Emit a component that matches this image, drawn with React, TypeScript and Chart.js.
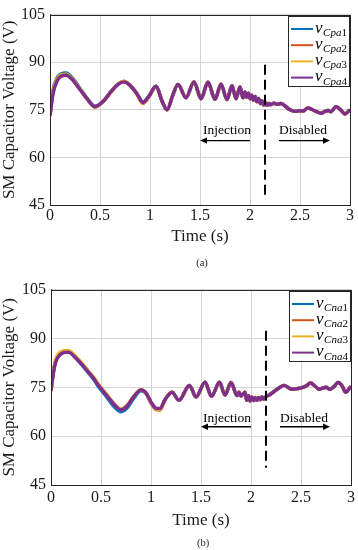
import React, { useEffect, useRef } from "react";
import { Chart, registerables } from "chart.js";
Chart.register(...registerables);

const FONT = '"Liberation Serif", "Times New Roman", serif';
const COLORS = ["#0072BD", "#D95319", "#EDB120", "#7E2F8E"];
const INK = "#1a1a1a";
const GRID = "#d6d6d6";

// x ticks / y ticks
const xTicks = [0, 0.5, 1, 1.5, 2, 2.5, 3];
const xTickLabels = ["0", "0.5", "1", "1.5", "2", "2.5", "3"];
const yTicks = [45, 60, 75, 90, 105];

// ---------- panel (a) ----------
const timeA = [
  0, 0.03, 0.07, 0.11, 0.16, 0.22, 0.29, 0.37, 0.45, 0.53, 0.61, 0.68, 0.74, 0.8, 0.87, 0.93, 0.99,
  1.06, 1.12, 1.17, 1.23, 1.28, 1.36, 1.44, 1.51, 1.58, 1.65, 1.71, 1.77, 1.82, 1.86, 1.9, 1.93,
  1.95, 1.967, 1.984, 2.001, 2.018, 2.035, 2.052, 2.069, 2.086, 2.103, 2.12, 2.137, 2.154, 2.171, 2.188, 2.205,
  2.24, 2.27, 2.31, 2.35, 2.4, 2.45, 2.5, 2.53, 2.58, 2.62, 2.66, 2.71, 2.75, 2.78, 2.81, 2.86, 2.9, 2.95, 3.0,
];
const pa1Head = [73.5, 81.2, 85.0, 86.3, 86.6, 85.2, 82.2, 78.7, 76.1, 77.7, 80.8, 83.1, 83.9, 82.8, 80.1, 77.4, 79.4];
const pa2Head = [73.2, 80.5, 84.5, 85.9, 86.1, 84.8, 81.9, 78.4, 75.8, 77.5, 80.6, 83.0, 83.9, 82.7, 79.9, 77.0, 79.1];
const pa3Head = [73.3, 80.7, 84.6, 86.0, 86.2, 84.9, 82.0, 78.5, 75.9, 77.6, 80.7, 83.1, 84.0, 82.8, 80.0, 77.1, 79.2];
const pa4Head = [73.0, 80.0, 84.0, 85.6, 85.9, 84.6, 81.8, 78.5, 76.0, 77.6, 80.7, 83.0, 83.8, 82.7, 80.0, 77.3, 79.3];
const paTail = [
  82.4, 77.8, 75.0, 79.8, 83.0, 78.8, 83.8, 78.5, 83.7, 78.3, 83.1, 78.2, 82.6, 78.5, 82.2, 78.8,
  80.6, 79.0, 80.2, 78.5, 79.6, 78.0, 79.2, 77.6, 78.6, 77.0, 77.9, 76.5, 77.3, 76.4, 77.0, 76.6,
  77.1, 76.7, 77.0, 76.2, 75.0, 74.5, 74.7, 74.6, 75.6, 75.1, 74.5, 73.9, 74.5, 74.8, 74.4, 76.0, 75.2, 73.7, 75.0,
];
const labelsA = ["Cpa1", "Cpa2", "Cpa3", "Cpa4"];

// ---------- panel (b) ----------
const timeB = [
  0, 0.02, 0.045, 0.09, 0.17, 0.27, 0.37, 0.43, 0.47, 0.56, 0.64, 0.7, 0.76, 0.83, 0.9, 0.95, 1.0, 1.05, 1.09,
  1.14, 1.21, 1.28, 1.385, 1.45, 1.54, 1.605, 1.685, 1.74, 1.8, 1.86, 1.88, 1.9, 1.94,
  1.957, 1.974, 1.991, 2.008, 2.025, 2.042, 2.059, 2.076, 2.093, 2.11, 2.127, 2.145,
  2.19, 2.23, 2.28, 2.33, 2.38, 2.41, 2.46, 2.5, 2.55, 2.595, 2.64, 2.68, 2.72, 2.75, 2.79, 2.83, 2.87, 2.91, 2.945, 3.0,
];
const na1Head = [74.3, 79.0, 83.0, 85.3, 85.9, 83.2, 79.6, 77.3, 75.4, 71.9, 68.8, 67.5, 68.6, 71.7, 73.9, 73.1, 70.3, 68.4, 68.3];
const na2Head = [73.8, 78.8, 83.0, 85.6, 86.2, 83.6, 80.0, 77.8, 76.0, 72.6, 69.6, 68.3, 69.4, 72.3, 74.3, 73.2, 70.2, 68.2, 68.0];
const na3Head = [73.9, 78.9, 83.1, 85.7, 86.3, 83.7, 80.1, 77.9, 76.1, 72.7, 69.5, 68.3, 69.3, 72.3, 74.3, 73.3, 70.4, 68.4, 68.2];
const na4Head = [74.0, 78.5, 82.5, 85.0, 85.8, 83.3, 79.8, 77.6, 75.8, 72.4, 69.4, 68.1, 69.2, 72.2, 74.2, 73.3, 70.5, 68.6, 68.5];
const naTail = [
  71.2, 73.5, 71.0, 75.6, 72.0, 76.6, 72.2, 76.6, 72.6, 76.5, 72.5, 73.5, 72.3, 73.5,
  71.0, 72.4, 70.8, 72.0, 70.9, 71.9, 71.0, 71.8, 71.2, 72.0, 71.4, 72.0,
  72.8, 73.7, 74.8, 75.6, 74.8, 74.4, 74.6, 74.8, 75.4, 76.3, 75.4, 74.4, 74.8, 75.0, 74.4, 75.2, 76.5, 75.5, 73.5, 75.3,
];
const labelsB = ["Cna1", "Cna2", "Cna3", "Cna4"];

type PanelCfg = {
  time: number[];
  series: number[][];
  labels: string[];
  caption: string;
  pad: { top: number; right: number; left: number };
  xHeight: number;
  yWidth: number;
  tickGap: number;
  titleGap: number;
  captionY: number;
  dashX: number;
  dashFrom: number;
  dashTo: number;
  textY: number;
  arrowY: number;
  injText: number;
  injArrow: [number, number];
  disText: number;
  disArrow: [number, number];
};

const panelA: PanelCfg = {
  time: timeA,
  series: [
    [...pa1Head, ...paTail],
    [...pa2Head, ...paTail],
    [...pa3Head, ...paTail],
    [...pa4Head, ...paTail],
  ],
  labels: labelsA,
  caption: "(a)",
  pad: { top: 8, right: 8, left: 0 },
  xHeight: 70,
  yWidth: 50,
  tickGap: 1,
  titleGap: 32,
  captionY: 263,
  dashX: 2.15,
  dashFrom: 89.2,
  dashTo: 47.4,
  textY: 68.4,
  arrowY: 65.3,
  injText: 1.77,
  injArrow: [2.0, 1.5],
  disText: 2.53,
  disArrow: [2.29, 2.8],
};

const panelB: PanelCfg = {
  time: timeB,
  series: [
    [...na1Head, ...naTail],
    [...na2Head, ...naTail],
    [...na3Head, ...naTail],
    [...na4Head, ...naTail],
  ],
  labels: labelsB,
  caption: "(b)",
  pad: { top: 14, right: 7, left: 0 },
  xHeight: 65,
  yWidth: 51,
  tickGap: 3,
  titleGap: 36,
  captionY: 268,
  dashX: 2.15,
  dashFrom: 92.4,
  dashTo: 50.3,
  textY: 65.4,
  arrowY: 62.9,
  injText: 1.76,
  injArrow: [2.0, 1.5],
  disText: 2.53,
  disArrow: [2.29, 2.79],
};

function arrow(ctx: CanvasRenderingContext2D, x1: number, x2: number, y: number) {
  const dir = Math.sign(x2 - x1);
  const head = 7;
  ctx.strokeStyle = "#000";
  ctx.fillStyle = "#000";
  ctx.lineWidth = 1.4;
  ctx.beginPath();
  ctx.moveTo(x1, y);
  ctx.lineTo(x2 - dir * head * 0.6, y);
  ctx.stroke();
  ctx.beginPath();
  ctx.moveTo(x2, y);
  ctx.lineTo(x2 - dir * head, y - 3.2);
  ctx.lineTo(x2 - dir * head, y + 3.2);
  ctx.closePath();
  ctx.fill();
}

function Panel({ cfg }: { cfg: PanelCfg }) {
  const ref = useRef<HTMLCanvasElement | null>(null);
  useEffect(() => {
    const overlay = {
      id: "overlay" + cfg.caption,
      afterDraw(chart: any) {
        const { ctx, chartArea: ca, scales } = chart;
        const x = scales.x;
        const y = scales.y;
        ctx.save();
        // box
        ctx.strokeStyle = "#262626";
        ctx.lineWidth = 1;
        ctx.strokeRect(Math.round(ca.left) + 0.5, Math.round(ca.top) + 0.5, Math.round(ca.right - ca.left), Math.round(ca.bottom - ca.top));
        // dashed vertical line
        const dx = x.getPixelForValue(cfg.dashX);
        ctx.setLineDash([10, 5]);
        ctx.lineWidth = 2;
        ctx.strokeStyle = "#000";
        ctx.beginPath();
        ctx.moveTo(dx, y.getPixelForValue(cfg.dashFrom));
        ctx.lineTo(dx, y.getPixelForValue(cfg.dashTo));
        ctx.stroke();
        ctx.setLineDash([]);
        // annotation texts
        ctx.fillStyle = "#000";
        ctx.font = `13.5px ${FONT}`;
        ctx.textAlign = "center";
        ctx.textBaseline = "middle";
        ctx.fillText("Injection", x.getPixelForValue(cfg.injText), y.getPixelForValue(cfg.textY));
        ctx.fillText("Disabled", x.getPixelForValue(cfg.disText), y.getPixelForValue(cfg.textY));
        const ay = y.getPixelForValue(cfg.arrowY);
        arrow(ctx, x.getPixelForValue(cfg.injArrow[0]), x.getPixelForValue(cfg.injArrow[1]), ay);
        arrow(ctx, x.getPixelForValue(cfg.disArrow[0]), x.getPixelForValue(cfg.disArrow[1]), ay);
        // legend
        const bw = 61;
        const bh = 70;
        const bx = Math.round(ca.right - 1.5 - bw);
        const by = Math.round(ca.top + 1.5);
        ctx.fillStyle = "#fff";
        ctx.fillRect(bx, by, bw, bh);
        ctx.strokeStyle = "#262626";
        ctx.lineWidth = 1;
        ctx.strokeRect(bx + 0.5, by + 0.5, bw, bh);
        ctx.textAlign = "left";
        ctx.textBaseline = "alphabetic";
        cfg.labels.forEach((lab, i) => {
          const cy = by + 13 + 16.2 * i;
          ctx.strokeStyle = COLORS[i];
          ctx.lineWidth = 2;
          ctx.beginPath();
          ctx.moveTo(bx + 3, cy);
          ctx.lineTo(bx + 25, cy);
          ctx.stroke();
          ctx.fillStyle = "#000";
          ctx.font = `italic 17px ${FONT}`;
          ctx.fillText("v", bx + 27, cy + 3.5);
          const w = ctx.measureText("v").width;
          const sub = lab.slice(0, -1);
          const digit = lab.slice(-1);
          ctx.font = `italic 11px ${FONT}`;
          ctx.fillText(sub, bx + 27 + w + 0.5, cy + 7);
          const w2 = ctx.measureText(sub).width;
          ctx.font = `11px ${FONT}`;
          ctx.fillText(digit, bx + 27 + w + 0.5 + w2, cy + 7);
        });
        // axis titles
        ctx.fillStyle = INK;
        ctx.textAlign = "center";
        ctx.textBaseline = "middle";
        ctx.font = `17px ${FONT}`;
        ctx.fillText("Time (s)", (ca.left + ca.right) / 2, ca.bottom + cfg.titleGap);
        ctx.save();
        ctx.translate(10, (ca.top + ca.bottom) / 2);
        ctx.rotate(-Math.PI / 2);
        ctx.fillText("SM Capacitor Voltage (V)", 0, 0);
        ctx.restore();
        ctx.font = `10.5px ${FONT}`;
        ctx.fillText(cfg.caption, (ca.left + ca.right) / 2 + 2, cfg.captionY);
        ctx.restore();
      },
    };

    const datasets = cfg.series.map((vals, i) => ({
      label: cfg.labels[i],
      data: vals.map((v, k) => ({ x: cfg.time[k], y: v })),
      borderColor: COLORS[i],
      backgroundColor: COLORS[i],
      borderWidth: 3.4,
      pointRadius: 0,
      fill: false,
      cubicInterpolationMode: "monotone" as const,
      order: 3 - i,
    }));

    const tickFont = { family: FONT, size: 16 };
    const chart = new Chart(ref.current as HTMLCanvasElement, {
      type: "line",
      data: { datasets },
      options: {
        animation: false,
        responsive: false,
        events: [],
        layout: { padding: { top: cfg.pad.top, right: cfg.pad.right, left: cfg.pad.left, bottom: 0 } },
        plugins: { legend: { display: false }, tooltip: { enabled: false } },
        scales: {
          x: {
            type: "linear",
            min: 0,
            max: 3,
            afterBuildTicks: (s: any) => {
              s.ticks = xTicks.map((v) => ({ value: v }));
            },
            ticks: {
              font: tickFont,
              color: INK,
              padding: cfg.tickGap,
              maxRotation: 0,
              autoSkip: false,
              callback: (_v: any, idx: number) => xTickLabels[idx],
            },
            grid: { color: GRID, drawTicks: false, lineWidth: 1 },
            border: { color: "#262626", width: 1 },
            afterFit: (s: any) => {
              s.height = cfg.xHeight;
            },
          },
          y: {
            type: "linear",
            min: 45,
            max: 105,
            afterBuildTicks: (s: any) => {
              s.ticks = yTicks.map((v) => ({ value: v }));
            },
            ticks: { font: tickFont, color: INK, padding: 5, callback: (v: any) => String(v) },
            grid: { color: GRID, drawTicks: false, lineWidth: 1 },
            border: { color: "#262626", width: 1 },
            afterFit: (s: any) => {
              s.width = cfg.yWidth;
            },
          },
        },
      },
      plugins: [overlay],
    });
    return () => chart.destroy();
  }, [cfg]);
  return <canvas ref={ref} width={358} height={275} style={{ display: "block" }} />;
}

export default function App() {
  return (
    <div style={{ position: "absolute", left: 0, top: 0, width: 358, height: 550, background: "#fff" }}>
      <Panel cfg={panelA} />
      <Panel cfg={panelB} />
    </div>
  );
}
